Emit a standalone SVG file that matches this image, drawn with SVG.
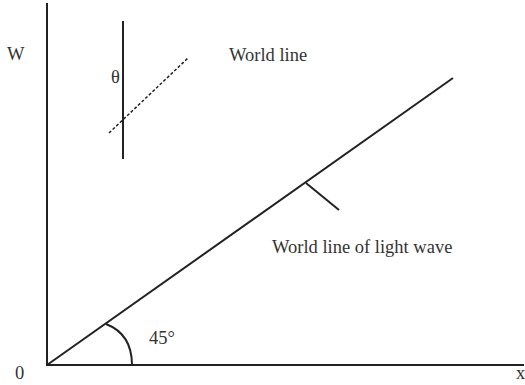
<svg xmlns="http://www.w3.org/2000/svg" width="525" height="385" viewBox="0 0 525 385">
<style>
text{font-family:"Liberation Serif","Times New Roman",serif;font-size:18.5px;fill:#333}
.ln{stroke:#222;stroke-width:2;fill:none}
</style>
<rect width="525" height="385" fill="#fff"/>
<g id="axes">
<line class="ln" x1="47" y1="3" x2="47" y2="366"/>
<line class="ln" x1="46" y1="365" x2="524" y2="365"/>
</g>
<g id="connectors">
<line class="ln" x1="47" y1="365" x2="453" y2="78"/>
<line class="ln" x1="306" y1="183" x2="339" y2="210"/>
<path class="ln" d="M106,324 C124,331 132,345 132,365"/>
<line class="ln" x1="123" y1="21" x2="123" y2="159"/>
<line x1="109" y1="133" x2="188" y2="58" stroke="#222" stroke-width="1.5" stroke-dasharray="3,2"/>
</g>
<g id="labels">
<text x="7" y="60">W</text>
<text x="15" y="379">0</text>
<text x="516" y="379">x</text>
<text x="111" y="83">θ</text>
<text x="229" y="61">World line</text>
<text x="272" y="253">World line of light wave</text>
<text x="149" y="344">45°</text>
</g>
</svg>
